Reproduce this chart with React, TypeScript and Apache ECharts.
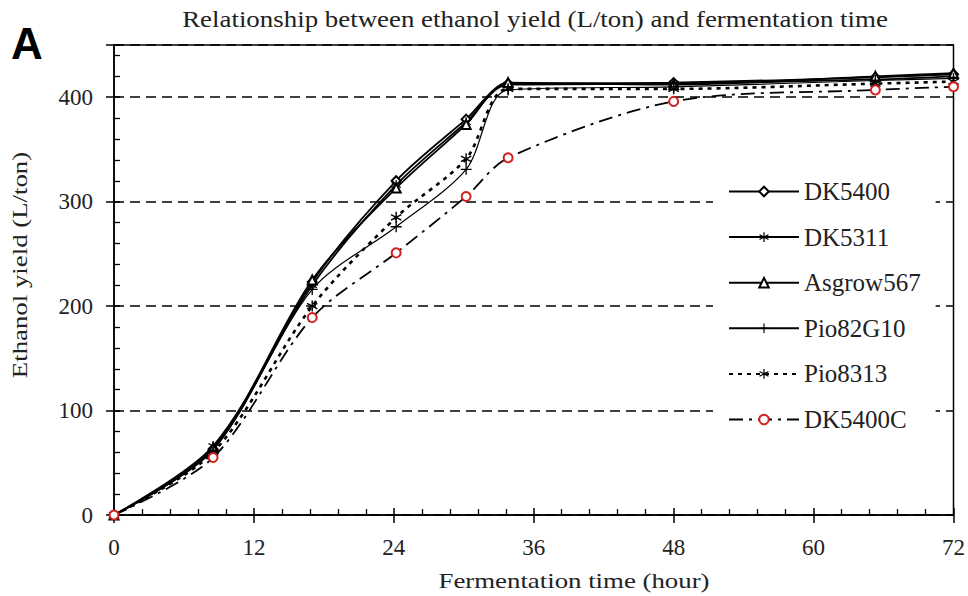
import React, { useEffect, useRef } from "react";
import * as echarts from "echarts";

const hours = [0, 8.5, 17, 24.2, 30.2, 33.8, 48, 65.3, 72];
const dk5400 = [0, 63, 223, 320, 379, 413, 414, 419, 422];
const dk5311 = [0, 66, 220, 316, 376, 412, 413, 417, 420];
const asgrow567 = [0, 64, 225, 313, 374, 414, 412, 420, 423];
const pio82g10 = [0, 62, 216, 276, 331, 407, 410, 416, 418];
const pio8313 = [0, 60, 200, 285, 341, 408, 408, 413, 415];
const dk5400c = [0, 55, 189, 251, 305, 342, 396, 407, 410];

const yTicks = [0, 100, 200, 300, 400];
const xTicks = [0, 12, 24, 36, 48, 60, 72];

const titleText = "Relationship between ethanol yield (L/ton) and fermentation time";
const xName = "Fermentation time (hour)";
const yName = "Ethanol yield (L/ton)";

const SERIF = "'Liberation Serif', 'Times New Roman', serif";
const TXT = "#222";

const ASTERISK =
  "path://M-0.6,-5 L0.6,-5 L0.6,5 L-0.6,5 Z M4.03,-3.02 L4.63,-1.98 L-4.03,3.02 L-4.63,1.98 Z M-4.63,-1.98 L-4.03,-3.02 L4.63,1.98 L4.03,3.02 Z";
const PLUS =
  "path://M-0.6,-5 L0.6,-5 L0.6,-0.6 L5,-0.6 L5,0.6 L0.6,0.6 L0.6,5 L-0.6,5 L-0.6,0.6 L-5,0.6 L-5,-0.6 L-0.6,-0.6 Z";

function pairs(vals: number[]) {
  return hours.map((h, i) => [h, vals[i]]);
}

export default function App() {
  const ref = useRef<HTMLDivElement>(null);
  useEffect(() => {
    if (!ref.current) return;
    const chart = echarts.init(ref.current, undefined, { renderer: "svg" });
    const mkSeries = (
      name: string,
      vals: number[],
      symbol: string,
      symbolSize: number,
      lineStyle: any,
      itemStyle: any,
      z = 3
    ) => ({
      name,
      type: "line",
      data: pairs(vals),
      xAxisIndex: 0,
      yAxisIndex: 0,
      smooth: 0.3,
      symbol,
      symbolSize,
      showSymbol: true,
      lineStyle,
      itemStyle,
      z,
    });
    chart.setOption({
      animation: false,
      backgroundColor: "#fff",
      grid: {
        left: 114,
        right: 12,
        top: 45,
        bottom: 81,
        containLabel: false,
        show: true,
        borderColor: "#000",
        borderWidth: 1.5,
        backgroundColor: "transparent",
      },
      graphic: [
        {
          type: "text",
          x: 535,
          y: 19,
          scaleX: 1.17,
          style: {
            text: titleText,
            fill: TXT,
            font: `23px ${SERIF}`,
            textAlign: "center",
            textVerticalAlign: "middle",
          },
        },
        {
          type: "text",
          x: 574,
          y: 580,
          scaleX: 1.22,
          style: {
            text: xName,
            fill: TXT,
            font: `22px ${SERIF}`,
            textAlign: "center",
            textVerticalAlign: "middle",
          },
        },
        {
          type: "text",
          x: 19,
          y: 265,
          rotation: Math.PI / 2,
          scaleX: 1.22,
          style: {
            text: yName,
            fill: TXT,
            font: `22px ${SERIF}`,
            textAlign: "center",
            textVerticalAlign: "middle",
          },
        },
        {
          type: "text",
          x: 11,
          y: 43,
          style: {
            text: "A",
            fill: "#000",
            font: "bold 44px 'Liberation Sans', Arial, sans-serif",
            textVerticalAlign: "middle",
          },
        },
      ],
      legend: {
        orient: "vertical",
        left: 713,
        top: 167,
        padding: [12, 15, 14, 15],
        backgroundColor: "#fff",
        itemWidth: 70,
        itemHeight: 12,
        itemGap: 20.6,
        data: ["DK5400", "DK5311", "Asgrow567", "Pio82G10", "Pio8313", "DK5400C"],
        textStyle: { fontFamily: SERIF, fontSize: 25, color: TXT },
      },
      xAxis: [
        {
          type: "value",
          min: 0,
          max: 72,
          interval: 12,
          position: "bottom",
          axisLine: { show: true, lineStyle: { color: "#000", width: 1.5 } },
          axisTick: { show: true, inside: true, length: 7, lineStyle: { color: "#000", width: 1.5 } },
          minorTick: { show: true, splitNumber: 5, length: 6, lineStyle: { color: "#000", width: 1.3 } },
          axisLabel: {
            margin: 21,
            fontFamily: SERIF,
            fontSize: 23,
            color: TXT,
            formatter: (v: number) => (xTicks.includes(v) ? String(v) : ""),
          },
          splitLine: { show: false },
        },
        {
          type: "value",
          min: 0,
          max: 72,
          interval: 12,
          position: "bottom",
          axisLine: { show: false },
          axisTick: { show: true, inside: false, length: 8, lineStyle: { color: "#000", width: 1.5 } },
          axisLabel: { show: false },
          splitLine: { show: false },
        },
      ],
      yAxis: [
        {
          type: "value",
          min: 0,
          max: 450,
          interval: 100,
          position: "left",
          axisLine: { show: true, lineStyle: { color: "#000", width: 1.5 } },
          axisTick: { show: true, inside: true, length: 6, lineStyle: { color: "#000", width: 1.5 } },
          minorTick: { show: true, splitNumber: 5, length: 6, lineStyle: { color: "#000", width: 1.3 } },
          axisLabel: {
            margin: 21,
            showMaxLabel: false,
            fontFamily: SERIF,
            fontSize: 23,
            color: TXT,
            formatter: (v: number) => (yTicks.includes(v) ? String(v) : ""),
          },
          splitLine: {
            show: true,
            lineStyle: { color: "#000", width: 1.6, type: [10, 6] },
          },
        },
        {
          type: "value",
          min: 0,
          max: 450,
          interval: 100,
          position: "left",
          axisLine: { show: false },
          axisTick: { show: true, inside: false, length: 8, lineStyle: { color: "#000", width: 1.5 } },
          axisLabel: { show: false },
          splitLine: { show: false },
        },
      ],
      series: [
        mkSeries("DK5400", dk5400, "emptyDiamond", 9, { color: "#000", width: 1.8 }, { color: "#000", borderWidth: 1.3 }),
        mkSeries("DK5311", dk5311, ASTERISK, 10, { color: "#000", width: 1.8 }, { color: "#000" }),
        mkSeries("Asgrow567", asgrow567, "emptyTriangle", 9, { color: "#000", width: 1.8 }, { color: "#000", borderWidth: 1.3 }),
        mkSeries("Pio82G10", pio82g10, PLUS, 11, { color: "#000", width: 1.2 }, { color: "#000" }),
        mkSeries("Pio8313", pio8313, ASTERISK, 11, { color: "#000", width: 2.6, type: [4, 5] }, { color: "#000" }),
        mkSeries(
          "DK5400C",
          dk5400c,
          "emptyCircle",
          9,
          { color: "#000", width: 1.8, type: [14, 6, 3, 6] },
          { color: "#d32020", borderColor: "#d32020", borderWidth: 2 },
          4
        ),
      ],
    });
    return () => chart.dispose();
  }, []);
  return (
    <div
      ref={ref}
      style={{ position: "absolute", left: 0, top: 0, width: 968, height: 596 }}
    />
  );
}
